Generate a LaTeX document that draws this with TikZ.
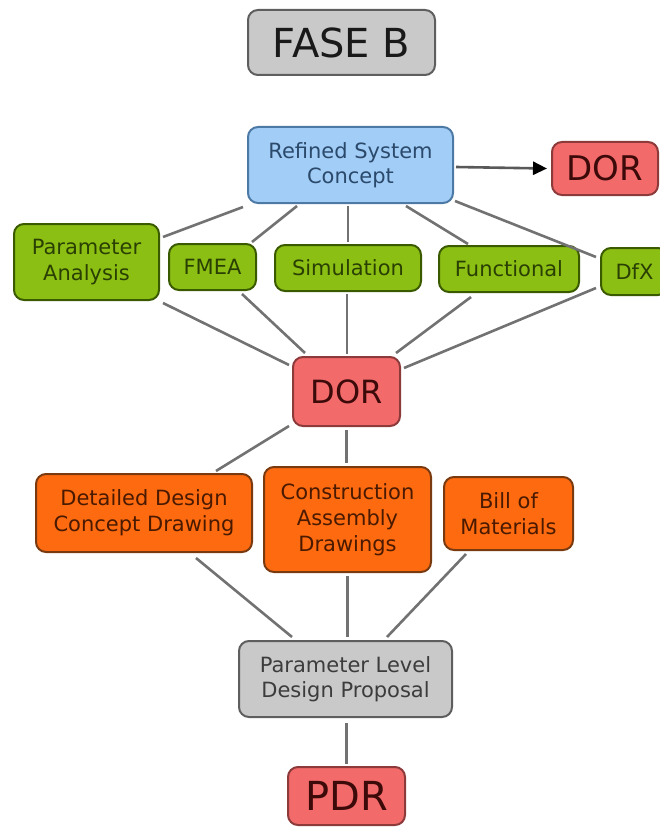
\documentclass[tikz,border=0pt]{standalone}
\usepackage{fontspec}
\setmainfont{DejaVu Sans}
\usetikzlibrary{arrows.meta}

\definecolor{linegray}{HTML}{727272}
\definecolor{grayfill}{HTML}{C9C9C9}
\definecolor{grayedge}{HTML}{5E5E5E}
\definecolor{graytext}{HTML}{3C3C3C}
\definecolor{bluefill}{HTML}{A2CDF7}
\definecolor{blueedge}{HTML}{4C7AA5}
\definecolor{bluetext}{HTML}{2B4A6B}
\definecolor{redfill}{HTML}{F36A6B}
\definecolor{rededge}{HTML}{8C3A3A}
\definecolor{redtext}{HTML}{3D0A0A}
\definecolor{greenfill}{HTML}{8CBF14}
\definecolor{greenedge}{HTML}{3A5A00}
\definecolor{greentext}{HTML}{2A4003}
\definecolor{orangefill}{HTML}{FD6A10}
\definecolor{orangeedge}{HTML}{7A3A10}
\definecolor{orangetext}{HTML}{4A1A00}

\tikzset{
  box/.style={rounded corners=10pt, line width=2pt, inner sep=0pt, align=center},
  graybox/.style={box, fill=grayfill, draw=grayedge, text=graytext,
    font=\fontsize{21}{25}\selectfont},
  titlebox/.style={box, fill=grayfill, draw=grayedge, text=black!90,
    font=\fontsize{40}{44}\selectfont},
  bluebox/.style={box, fill=bluefill, draw=blueedge, text=bluetext,
    font=\fontsize{21}{25}\selectfont},
  redbox/.style={box, fill=redfill, draw=rededge, text=redtext},
  greenbox/.style={box, fill=greenfill, draw=greenedge, text=greentext,
    font=\fontsize{21}{26}\selectfont},
  orangebox/.style={box, fill=orangefill, draw=orangeedge, text=orangetext,
    font=\fontsize{21}{26}\selectfont},
  link/.style={draw=linegray, line width=2.6pt},
  flow/.style={draw=black!65, line width=2.6pt,
    -{Triangle[length=14pt,width=13pt,fill=black,color=black]}},
}

\begin{document}
\begin{tikzpicture}[x=1pt,y=-1pt]
  \useasboundingbox (0,0) rectangle (660,829);

  % title
  \node[titlebox, minimum width=187pt, minimum height=65pt] (fase) at (341.5,42.5) {FASE B};

  % concept and first review
  \node[bluebox, minimum width=205pt, minimum height=76pt] (rsc) at (350.5,165) {Refined System\\Concept};
  \node[redbox, minimum width=106pt, minimum height=53pt,
        font=\fontsize{34}{38}\selectfont] (dor1) at (605,168.5) {DOR};

  % analysis activities
  \node[greenbox, minimum width=145pt, minimum height=76pt] (pa) at (86.5,262) {Parameter\\Analysis};
  \node[greenbox, minimum width=87pt, minimum height=46pt] (fmea) at (212.5,267) {FMEA};
  \node[greenbox, minimum width=146pt, minimum height=46pt] (sim) at (348,268) {Simulation};
  \node[greenbox, minimum width=140pt, minimum height=46pt] (func) at (509,269) {Functional};
  \node[greenbox, minimum width=67pt, minimum height=47pt] (dfx) at (634.5,271.5) {DfX};

  % second review
  \node[redbox, minimum width=107pt, minimum height=69pt,
        font=\fontsize{32}{36}\selectfont] (dor2) at (346.5,391.5) {DOR};

  % design documents
  \node[orangebox, minimum width=216pt, minimum height=78pt] (ddcd) at (144,513) {Detailed Design\\Concept Drawing};
  \node[orangebox, minimum width=167pt, minimum height=105pt] (cad) at (347.5,519.5) {Construction\\Assembly\\Drawings};
  \node[orangebox, minimum width=129pt, minimum height=73pt] (bom) at (508.5,513.5) {Bill of\\Materials};

  % proposal and final review
  \node[graybox, minimum width=213pt, minimum height=76pt] (pldp) at (345.5,679) {Parameter Level\\Design Proposal};
  \node[redbox, minimum width=117pt, minimum height=58pt,
        font=\fontsize{40}{44}\selectfont] (pdr) at (346.5,796) {PDR};

  % concept to review
  \draw[flow] ([shift={(2,2)}]rsc.east) -- ([shift={(-4,0)}]dor1.west);

  % concept to activities
  \draw[link] ([shift={(-4,3)}]rsc.south west) -- ([shift={(3,14)}]pa.north east);
  \draw[link] ([shift={(50,2)}]rsc.south west) -- ([shift={(-5,-1)}]fmea.north east);
  \draw[link] ([shift={(0,2)}]sim.north |- rsc.south) -- ([shift={(0,-2)}]sim.north);
  \draw[link] ([shift={(-48,2)}]rsc.south east) -- ([shift={(30,-1)}]func.north west);
  \draw[link] ([shift={(1,-3)}]rsc.south east) -- ([shift={(-4,10)}]dfx.north west);

  % activities to review
  \draw[link] ([shift={(3,2)}]pa.south east) -- ([shift={(-3,9)}]dor2.north west);
  \draw[link] ([shift={(-15,3)}]fmea.south east) -- ([shift={(13,-3)}]dor2.north west);
  \draw[link] ([shift={(-1,2)}]sim.south) -- ([shift={(-1,-2)}]sim.south |- dor2.north);
  \draw[link] ([shift={(33,4)}]func.south west) -- ([shift={(-5,-3)}]dor2.north east);
  \draw[link] ([shift={(-4,-8)}]dfx.south west) -- ([shift={(3,12)}]dor2.north east);

  % review to documents
  \draw[link] ([shift={(-3,-1)}]dor2.south west) -- ([shift={(-37,-2)}]ddcd.north east);
  \draw[link] ([shift={(0,3)}]dor2.south) -- ([shift={(0,-3)}]dor2.south |- cad.north);

  % documents to proposal
  \draw[link] ([shift={(-57,5)}]ddcd.south east) -- ([shift={(54,-3)}]pldp.north west);
  \draw[link] ([shift={(0,3)}]cad.south) -- ([shift={(0,-3)}]cad.south |- pldp.north);
  \draw[link] ([shift={(23,3)}]bom.south west) -- ([shift={(-66,-3)}]pldp.north east);

  % proposal to final review
  \draw[link] ([shift={(0,5)}]pdr.north |- pldp.south) -- ([shift={(0,-2)}]pdr.north);
\end{tikzpicture}
\end{document}
